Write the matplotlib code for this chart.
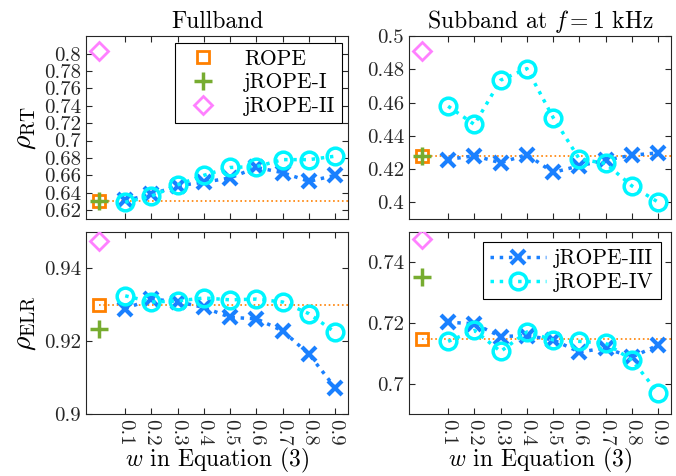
import matplotlib
matplotlib.use("Agg")
import matplotlib.pyplot as plt
from matplotlib.ticker import FuncFormatter

plt.rcParams["font.family"] = "serif"
plt.rcParams["font.serif"] = ["cmr10", "DejaVu Serif"]
plt.rcParams["mathtext.fontset"] = "cm"
plt.rcParams["axes.formatter.use_mathtext"] = True

# w values of the jROPE-III / jROPE-IV sweep
w = [0.1, 0.2, 0.3, 0.4, 0.5, 0.6, 0.7, 0.8, 0.9]
w_labels = ["0.1", "0.2", "0.3", "0.4", "0.5", "0.6", "0.7", "0.8", "0.9"]

# Fullband, rho_RT
rt_full_rope = 0.630
rt_full_j1 = 0.630
rt_full_j2 = 0.803
rt_full_j3 = [0.631, 0.638, 0.648, 0.652, 0.657, 0.669, 0.663, 0.653, 0.660]
rt_full_j4 = [0.629, 0.636, 0.649, 0.660, 0.669, 0.670, 0.678, 0.678, 0.682]

# Subband at 1 kHz, rho_RT
rt_sub_rope = 0.4277
rt_sub_j1 = 0.4277
rt_sub_j2 = 0.491
rt_sub_j3 = [0.4257, 0.4280, 0.4237, 0.4287, 0.4179, 0.4219, 0.4253, 0.4283, 0.4297]
rt_sub_j4 = [0.4578, 0.4468, 0.4735, 0.4805, 0.4510, 0.4260, 0.4233, 0.4098, 0.4000]

# Fullband, rho_ELR
elr_full_rope = 0.9298
elr_full_j1 = 0.9233
elr_full_j2 = 0.9473
elr_full_j3 = [0.9289, 0.9315, 0.9308, 0.9292, 0.9265, 0.9261, 0.9228, 0.9164, 0.9072]
elr_full_j4 = [0.9324, 0.9307, 0.9310, 0.9318, 0.9313, 0.9315, 0.9307, 0.9275, 0.9224]

# Subband at 1 kHz, rho_ELR
elr_sub_rope = 0.7147
elr_sub_j1 = 0.7352
elr_sub_j2 = 0.7475
elr_sub_j3 = [0.7202, 0.7197, 0.7155, 0.7158, 0.7144, 0.7104, 0.7117, 0.7087, 0.7127]
elr_sub_j4 = [0.7139, 0.7175, 0.7106, 0.7170, 0.7144, 0.7139, 0.7133, 0.7078, 0.6970]

c_rope = "#FF8000"
c_j1 = "#77AC30"
c_j2 = "#FF80FF"
c_j3 = "#1A80FF"
c_j4 = "#00F5FF"
c_axis = "#262626"


def draw_panel(ax, rope, j1, j2, j3, j4, ylim, yticks):
    ax.plot([0, 0.95], [rope, rope], ":", color=c_rope, lw=1.2, zorder=1)
    ax.plot(w, j3, ":", color=c_j3, lw=2.5, marker="x", ms=10, mew=3,
            label="jROPE-III", zorder=3)
    ax.plot(w, j4, ":", color=c_j4, lw=2.5, marker="o", ms=12, mew=2.5,
            mfc="none", label="jROPE-IV", zorder=3)
    ax.plot([0], [rope], "s", color=c_rope, ms=8, mew=2, mfc="none",
            label="ROPE", zorder=4)
    ax.plot([0], [j1], "+", color=c_j1, ms=13, mew=2.5, label="jROPE-I", zorder=5)
    ax.plot([0], [j2], "D", color=c_j2, ms=9, mew=2, mfc="none",
            label="jROPE-II", zorder=4)
    ax.set_xlim(-0.05, 0.95)
    ax.set_ylim(*ylim)
    ax.set_yticks(yticks)
    ax.yaxis.set_major_formatter(FuncFormatter(lambda v, p: "%g" % round(v, 4)))
    ax.set_xticks(w)
    ax.tick_params(direction="in", top=True, right=True, length=4,
                   labelsize=15, colors=c_axis, width=0.8)
    for s in ax.spines.values():
        s.set_color(c_axis)
        s.set_linewidth(0.8)


fig, axes = plt.subplots(2, 2, figsize=(6.76, 4.76), dpi=100)

draw_panel(axes[0, 0], rt_full_rope, rt_full_j1, rt_full_j2, rt_full_j3, rt_full_j4,
           (0.61, 0.82), [0.62 + 0.02 * i for i in range(10)])
draw_panel(axes[0, 1], rt_sub_rope, rt_sub_j1, rt_sub_j2, rt_sub_j3, rt_sub_j4,
           (0.39, 0.5), [0.40, 0.42, 0.44, 0.46, 0.48, 0.50])
draw_panel(axes[1, 0], elr_full_rope, elr_full_j1, elr_full_j2, elr_full_j3, elr_full_j4,
           (0.9, 0.95), [0.90, 0.92, 0.94])
draw_panel(axes[1, 1], elr_sub_rope, elr_sub_j1, elr_sub_j2, elr_sub_j3, elr_sub_j4,
           (0.69, 0.75), [0.70, 0.72, 0.74])

for ax in axes[0]:
    ax.set_xticklabels([])
for ax in axes[1]:
    ax.set_xticklabels(w_labels, rotation=270)
    ax.set_xlabel("$w$ in Equation (3)", fontsize=17, labelpad=0)

axes[0, 0].set_title("Fullband", fontsize=17, pad=6)
axes[0, 1].set_title("Subband at $f = 1$ kHz", fontsize=17, pad=6)
axes[0, 0].set_ylabel(r"$\rho_{\mathrm{RT}}$", fontsize=20)
axes[1, 0].set_ylabel(r"$\rho_{\mathrm{ELR}}$", fontsize=20)

h, l = axes[0, 0].get_legend_handles_labels()
order = [l.index(n) for n in ["ROPE", "jROPE-I", "jROPE-II"]]
leg = axes[0, 0].legend([h[i] for i in order], [l[i] for i in order],
                        loc="upper right", fontsize=15.5, fancybox=False,
                        edgecolor="black", framealpha=1, handletextpad=0.9,
                        borderpad=0.3, labelspacing=0.2, borderaxespad=0.3)
leg.get_frame().set_linewidth(0.8)

h, l = axes[1, 1].get_legend_handles_labels()
order = [l.index(n) for n in ["jROPE-III", "jROPE-IV"]]
leg = axes[1, 1].legend([h[i] for i in order], [l[i] for i in order],
                        loc="upper right", fontsize=15.5, fancybox=False,
                        edgecolor="black", framealpha=1, handlelength=2.6,
                        handletextpad=0.4, borderpad=0.3, labelspacing=0.2)
leg.get_frame().set_linewidth(0.8)

fig.subplots_adjust(left=0.127, right=0.993, top=0.924, bottom=0.13,
                    wspace=0.23, hspace=0.07)

fig.savefig("out.png", dpi=100)
